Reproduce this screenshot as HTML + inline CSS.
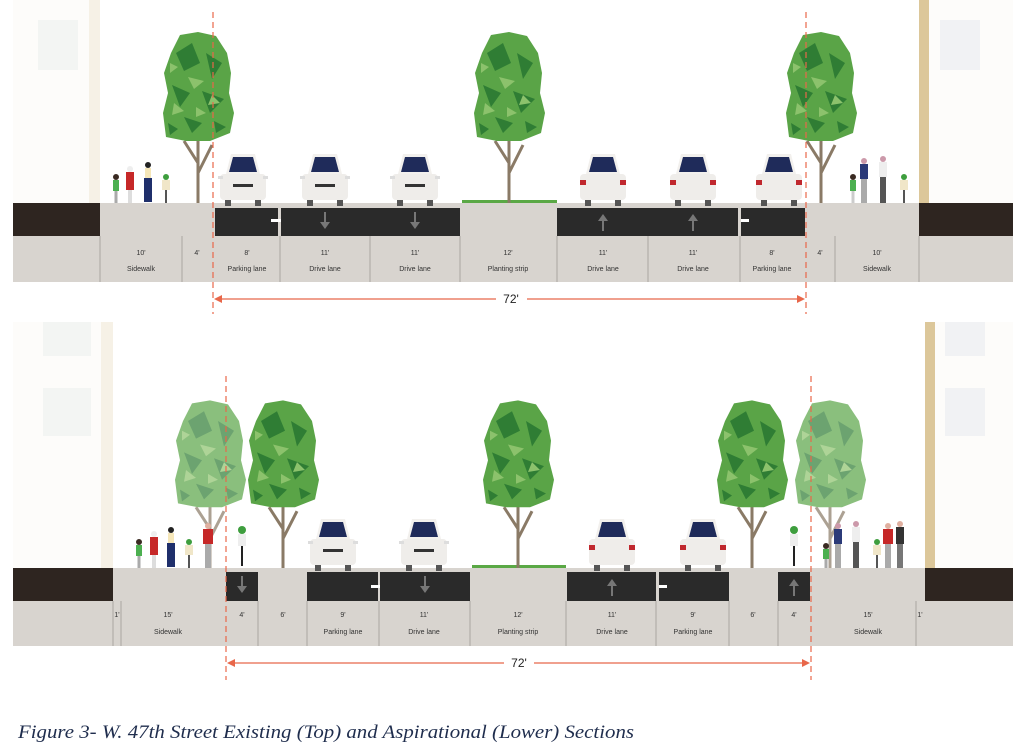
<!DOCTYPE html>
<html><head><meta charset="utf-8"><style>
html,body{margin:0;padding:0;background:#fff;}
svg{display:block;}
</style></head><body>
<svg width="1023" height="755" viewBox="0 0 1023 755" xmlns="http://www.w3.org/2000/svg">
<defs>
<g id="tree">
  <path d="M0,0 L0,-70 M0,-40 L-14,-62 M0,-30 L14,-58" stroke="#8a7a66" stroke-width="3" fill="none"/>
  <path d="M-32,-66 L-35,-90 L-30,-110 L-34,-130 L-27,-150 L-18,-168 L0,-171 L18,-167 L29,-150 L33,-130 L31,-110 L36,-90 L32,-70 L12,-62 L-12,-62 Z" fill="#5aa447"/>
  <path d="M-22,-150 L-6,-160 L2,-140 L-14,-132 Z M8,-150 L24,-140 L14,-124 Z M-26,-118 L-8,-110 L-18,-96 Z M4,-112 L26,-104 L12,-90 Z M-14,-86 L4,-80 L-6,-70 Z M16,-82 L28,-76 L18,-70 Z M-30,-80 L-20,-74 L-28,-68 Z" fill="#2f7d34"/>
  <path d="M-10,-126 L6,-122 L-4,-114 Z M14,-108 L22,-100 L10,-98 Z M-24,-100 L-14,-92 L-26,-88 Z M-2,-96 L8,-90 L-2,-86 Z M-28,-140 L-20,-136 L-28,-130 Z" fill="#8cc26c"/>
</g>
<g id="car">
  <rect x="-23" y="-14" width="46" height="26" rx="4" fill="#efedea"/>
  <path d="M-17,-14 L-12,-34 L12,-34 L17,-14 Z" fill="#f2f0ed"/>
  <path d="M-14,-16 L-10,-31 L10,-31 L14,-16 Z" fill="#1f2b5a"/>
  <rect x="-25" y="-12" width="5" height="3" fill="#ddd"/><rect x="20" y="-12" width="5" height="3" fill="#ddd"/>
  <rect x="-10" y="-4" width="20" height="3" fill="#333"/>
  <rect x="-18" y="12" width="6" height="6" fill="#555"/><rect x="12" y="12" width="6" height="6" fill="#555"/>
</g>
<g id="carb">
  <rect x="-23" y="-14" width="46" height="26" rx="4" fill="#efedea"/>
  <path d="M-17,-14 L-12,-34 L12,-34 L17,-14 Z" fill="#f2f0ed"/>
  <path d="M-14,-16 L-10,-31 L10,-31 L14,-16 Z" fill="#1f2b5a"/>
  <rect x="-23" y="-8" width="6" height="5" fill="#c0282e"/><rect x="17" y="-8" width="6" height="5" fill="#c0282e"/>
  <rect x="-18" y="12" width="6" height="6" fill="#555"/><rect x="12" y="12" width="6" height="6" fill="#555"/>
</g>
</defs>
<style>
.l{font-family:"Liberation Sans",sans-serif;font-size:7px;fill:#333;text-anchor:middle;}
.d{font-family:"Liberation Sans",sans-serif;font-size:12px;fill:#222;text-anchor:middle;}
</style>

<!-- buildings top -->
<rect x="13" y="0" width="80" height="203" fill="#fdfcfa"/>
<rect x="89" y="0" width="11" height="203" fill="#f6f1e6"/>
<rect x="38" y="20" width="40" height="50" fill="#f3f5f3"/>
<rect x="919" y="0" width="94" height="203" fill="#fdfcfa"/>
<rect x="919" y="0" width="10" height="203" fill="#dcc79a"/>
<rect x="940" y="20" width="40" height="50" fill="#f1f2f4"/>
<!-- buildings bottom -->
<rect x="13" y="322" width="90" height="246" fill="#fdfcfa"/>
<rect x="101" y="322" width="12" height="246" fill="#f6f1e6"/>
<rect x="43" y="322" width="48" height="34" fill="#f3f5f3"/>
<rect x="43" y="388" width="48" height="48" fill="#f3f5f3"/>
<rect x="925" y="322" width="88" height="246" fill="#fdfcfa"/>
<rect x="925" y="322" width="10" height="246" fill="#dcc79a"/>
<rect x="945" y="322" width="40" height="34" fill="#f1f2f4"/>
<rect x="945" y="388" width="40" height="48" fill="#f1f2f4"/>

<!-- TOP SECTION -->
<rect x="13" y="203" width="1000" height="79" fill="#d8d4cf"/>
<rect x="13" y="203" width="87" height="33" fill="#2e2520"/>
<rect x="919" y="203" width="94" height="33" fill="#2e2520"/>
<rect x="215" y="208" width="63" height="28" fill="#2a2a2a"/>
<rect x="281" y="208" width="179" height="28" fill="#2a2a2a"/>
<rect x="557" y="208" width="181" height="28" fill="#2a2a2a"/>
<rect x="741" y="208" width="64" height="28" fill="#2a2a2a"/>
<rect x="271" y="219" width="10" height="3" fill="#fff"/>
<rect x="741" y="219" width="8" height="3" fill="#fff"/>
<path d="M324,212 v10 h-4 l5,7 l5,-7 h-4 v-10z" fill="#777"/>
<path d="M414,212 v10 h-4 l5,7 l5,-7 h-4 v-10z" fill="#777"/>
<path d="M602,231 v-10 h-4 l5,-7 l5,7 h-4 v10z" fill="#777"/>
<path d="M692,231 v-10 h-4 l5,-7 l5,7 h-4 v10z" fill="#777"/>
<g stroke="#aaa6a0" stroke-width="1">
<line x1="100" y1="236" x2="100" y2="282"/><line x1="182" y1="236" x2="182" y2="282"/>
<line x1="280" y1="236" x2="280" y2="282"/><line x1="370" y1="236" x2="370" y2="282"/>
<line x1="460" y1="236" x2="460" y2="282"/><line x1="557" y1="236" x2="557" y2="282"/>
<line x1="648" y1="236" x2="648" y2="282"/><line x1="740" y1="236" x2="740" y2="282"/>
<line x1="835" y1="236" x2="835" y2="282"/><line x1="919" y1="236" x2="919" y2="282"/>
</g>
<rect x="462" y="200" width="95" height="3" fill="#5aa845"/>
<text class="l" x="141" y="255">10'</text><text class="l" x="141" y="271">Sidewalk</text>
<text class="l" x="197" y="255">4'</text>
<text class="l" x="247" y="255">8'</text><text class="l" x="247" y="271">Parking lane</text>
<text class="l" x="325" y="255">11'</text><text class="l" x="325" y="271">Drive lane</text>
<text class="l" x="415" y="255">11'</text><text class="l" x="415" y="271">Drive lane</text>
<text class="l" x="508" y="255">12'</text><text class="l" x="508" y="271">Planting strip</text>
<text class="l" x="603" y="255">11'</text><text class="l" x="603" y="271">Drive lane</text>
<text class="l" x="693" y="255">11'</text><text class="l" x="693" y="271">Drive lane</text>
<text class="l" x="772" y="255">8'</text><text class="l" x="772" y="271">Parking lane</text>
<text class="l" x="820" y="255">4'</text>
<text class="l" x="877" y="255">10'</text><text class="l" x="877" y="271">Sidewalk</text>

<use href="#tree" transform="translate(198,203)"/>
<use href="#tree" transform="translate(509,203)"/>
<use href="#tree" transform="translate(821,203)"/>
<use href="#car" transform="translate(243,188)"/>
<use href="#car" transform="translate(325,188)"/>
<use href="#car" transform="translate(415,188)"/>
<use href="#carb" transform="translate(603,188)"/>
<use href="#carb" transform="translate(693,188)"/>
<use href="#carb" transform="translate(779,188)"/>
<g transform="translate(116,203)"><circle cy="-26" r="3" fill="#3a2a22"/><rect x="-3" y="-23" width="6" height="11" fill="#4caf50"/><rect x="-1.5" y="-12" width="3" height="12" fill="#aaa"/></g>
<g transform="translate(130,203)"><circle cy="-34" r="3" fill="#eee"/><rect x="-4" y="-31" width="8" height="18" fill="#c62828"/><rect x="-2" y="-13" width="4" height="13" fill="#ddd"/></g>
<g transform="translate(148,203)"><circle cy="-38" r="3" fill="#222"/><rect x="-3" y="-35" width="6" height="10" fill="#f5e6b8"/><rect x="-4" y="-25" width="8" height="24" fill="#1f2f6b"/></g>
<g transform="translate(166,203)"><circle cy="-26" r="3" fill="#3e9e3e"/><rect x="-4" y="-23" width="8" height="10" fill="#f0e6c8"/><rect x="-1" y="-13" width="2" height="13" fill="#555"/></g>
<g transform="translate(853,203)"><circle cy="-26" r="3" fill="#3a2a22"/><rect x="-3" y="-23" width="6" height="11" fill="#4caf50"/><rect x="-1.5" y="-12" width="3" height="12" fill="#ccc"/></g>
<g transform="translate(864,203)"><circle cy="-42" r="3" fill="#c9a"/><rect x="-4" y="-39" width="8" height="15" fill="#2b3a78"/><rect x="-3" y="-24" width="6" height="24" fill="#aaa"/></g>
<g transform="translate(883,203)"><circle cy="-44" r="3" fill="#c9a"/><rect x="-4" y="-41" width="8" height="15" fill="#eee"/><rect x="-3" y="-26" width="6" height="26" fill="#555"/></g>
<g transform="translate(904,203)"><circle cy="-26" r="3" fill="#3e9e3e"/><rect x="-4" y="-23" width="8" height="10" fill="#f0e6c8"/><rect x="-1" y="-13" width="2" height="13" fill="#555"/></g>

<line x1="213" y1="12" x2="213" y2="314" stroke="#e8674a" stroke-width="1.2" stroke-dasharray="6,4"/>
<line x1="806" y1="12" x2="806" y2="314" stroke="#e8674a" stroke-width="1.2" stroke-dasharray="6,4"/>
<line x1="218" y1="299" x2="496" y2="299" stroke="#e8674a" stroke-width="1.3"/>
<line x1="527" y1="299" x2="801" y2="299" stroke="#e8674a" stroke-width="1.3"/>
<path d="M214,299 l8,-4 v8z" fill="#e8674a"/><path d="M805,299 l-8,-4 v8z" fill="#e8674a"/>
<text class="d" x="511" y="303">72'</text>

<!-- BOTTOM SECTION -->
<rect x="13" y="568" width="1000" height="78" fill="#d8d4cf"/>
<rect x="13" y="568" width="100" height="33" fill="#2e2520"/>
<rect x="925" y="568" width="88" height="33" fill="#2e2520"/>
<rect x="226" y="572" width="32" height="29" fill="#2a2a2a"/>
<rect x="307" y="572" width="71" height="29" fill="#2a2a2a"/>
<rect x="380" y="572" width="90" height="29" fill="#2a2a2a"/>
<rect x="567" y="572" width="89" height="29" fill="#2a2a2a"/>
<rect x="659" y="572" width="70" height="29" fill="#2a2a2a"/>
<rect x="778" y="572" width="32" height="29" fill="#2a2a2a"/>
<rect x="371" y="585" width="9" height="3" fill="#fff"/>
<rect x="659" y="585" width="8" height="3" fill="#fff"/>
<path d="M241,576 v10 h-4 l5,7 l5,-7 h-4 v-10z" fill="#777"/>
<path d="M424,576 v10 h-4 l5,7 l5,-7 h-4 v-10z" fill="#777"/>
<path d="M611,596 v-10 h-4 l5,-7 l5,7 h-4 v10z" fill="#777"/>
<path d="M793,596 v-10 h-4 l5,-7 l5,7 h-4 v10z" fill="#777"/>
<g stroke="#aaa6a0" stroke-width="1">
<line x1="113" y1="601" x2="113" y2="646"/><line x1="121" y1="601" x2="121" y2="646"/>
<line x1="258" y1="601" x2="258" y2="646"/><line x1="307" y1="601" x2="307" y2="646"/>
<line x1="379" y1="601" x2="379" y2="646"/><line x1="470" y1="601" x2="470" y2="646"/>
<line x1="566" y1="601" x2="566" y2="646"/><line x1="656" y1="601" x2="656" y2="646"/>
<line x1="729" y1="601" x2="729" y2="646"/><line x1="778" y1="601" x2="778" y2="646"/>
<line x1="916" y1="601" x2="916" y2="646"/>
</g>
<rect x="472" y="565" width="94" height="3" fill="#5aa845"/>
<text class="l" x="117" y="617">1'</text>
<text class="l" x="168" y="617">15'</text><text class="l" x="168" y="634">Sidewalk</text>
<text class="l" x="242" y="617">4'</text>
<text class="l" x="283" y="617">6'</text>
<text class="l" x="343" y="617">9'</text><text class="l" x="343" y="634">Parking lane</text>
<text class="l" x="424" y="617">11'</text><text class="l" x="424" y="634">Drive lane</text>
<text class="l" x="518" y="617">12'</text><text class="l" x="518" y="634">Planting strip</text>
<text class="l" x="612" y="617">11'</text><text class="l" x="612" y="634">Drive lane</text>
<text class="l" x="693" y="617">9'</text><text class="l" x="693" y="634">Parking lane</text>
<text class="l" x="753" y="617">6'</text>
<text class="l" x="794" y="617">4'</text>
<text class="l" x="868" y="617">15'</text><text class="l" x="868" y="634">Sidewalk</text>
<text class="l" x="920" y="617">1'</text>

<g opacity="0.7"><use href="#tree" transform="translate(210,568) scale(1,0.98)"/></g>
<use href="#tree" transform="translate(283,568) scale(1,0.98)"/>
<use href="#tree" transform="translate(518,568) scale(1,0.98)"/>
<use href="#tree" transform="translate(752,568) scale(1,0.98)"/>
<g opacity="0.7"><use href="#tree" transform="translate(830,568) scale(1,0.98)"/></g>
<use href="#car" transform="translate(333,553)"/>
<use href="#car" transform="translate(424,553)"/>
<use href="#carb" transform="translate(612,553)"/>
<use href="#carb" transform="translate(703,553)"/>
<g transform="translate(139,568)"><circle cy="-26" r="3" fill="#3a2a22"/><rect x="-3" y="-23" width="6" height="11" fill="#4caf50"/><rect x="-1.5" y="-12" width="3" height="12" fill="#aaa"/></g>
<g transform="translate(154,568)"><circle cy="-34" r="3" fill="#eee"/><rect x="-4" y="-31" width="8" height="18" fill="#c62828"/><rect x="-2" y="-13" width="4" height="13" fill="#ddd"/></g>
<g transform="translate(171,568)"><circle cy="-38" r="3" fill="#222"/><rect x="-3" y="-35" width="6" height="10" fill="#f5e6b8"/><rect x="-4" y="-25" width="8" height="24" fill="#1f2f6b"/></g>
<g transform="translate(189,568)"><circle cy="-26" r="3" fill="#3e9e3e"/><rect x="-4" y="-23" width="8" height="10" fill="#f0e6c8"/><rect x="-1" y="-13" width="2" height="13" fill="#555"/></g>
<g transform="translate(208,568)"><circle cy="-42" r="3" fill="#e0b0a0"/><rect x="-5" y="-39" width="10" height="15" fill="#c62828"/><rect x="-3" y="-24" width="6" height="24" fill="#aaa"/></g>
<g transform="translate(242,568)"><circle cy="-38" r="4" fill="#3e9e3e"/><rect x="-4" y="-34" width="8" height="12" fill="#eee"/><rect x="-1" y="-22" width="2" height="20" fill="#222"/></g>
<g transform="translate(794,568)"><circle cy="-38" r="4" fill="#3e9e3e"/><rect x="-4" y="-34" width="8" height="12" fill="#eee"/><rect x="-1" y="-22" width="2" height="20" fill="#222"/></g>
<g transform="translate(826,568)"><circle cy="-22" r="3" fill="#3a2a22"/><rect x="-3" y="-19" width="6" height="10" fill="#4caf50"/><rect x="-1.5" y="-9" width="3" height="9" fill="#aaa"/></g>
<g transform="translate(838,568)"><circle cy="-42" r="3" fill="#c9a"/><rect x="-4" y="-39" width="8" height="15" fill="#2b3a78"/><rect x="-3" y="-24" width="6" height="24" fill="#aaa"/></g>
<g transform="translate(856,568)"><circle cy="-44" r="3" fill="#c9a"/><rect x="-4" y="-41" width="8" height="15" fill="#eee"/><rect x="-3" y="-26" width="6" height="26" fill="#555"/></g>
<g transform="translate(877,568)"><circle cy="-26" r="3" fill="#3e9e3e"/><rect x="-4" y="-23" width="8" height="10" fill="#f0e6c8"/><rect x="-1" y="-13" width="2" height="13" fill="#555"/></g>
<g transform="translate(888,568)"><circle cy="-42" r="3" fill="#e0b0a0"/><rect x="-5" y="-39" width="10" height="15" fill="#c62828"/><rect x="-3" y="-24" width="6" height="24" fill="#aaa"/></g>
<g transform="translate(900,568)"><circle cy="-44" r="3" fill="#e0b0a0"/><rect x="-4" y="-41" width="8" height="17" fill="#333"/><rect x="-3" y="-24" width="6" height="24" fill="#777"/></g>

<line x1="226" y1="376" x2="226" y2="680" stroke="#e8674a" stroke-width="1.2" stroke-dasharray="6,4"/>
<line x1="811" y1="376" x2="811" y2="680" stroke="#e8674a" stroke-width="1.2" stroke-dasharray="6,4"/>
<line x1="231" y1="663" x2="504" y2="663" stroke="#e8674a" stroke-width="1.3"/>
<line x1="534" y1="663" x2="806" y2="663" stroke="#e8674a" stroke-width="1.3"/>
<path d="M227,663 l8,-4 v8z" fill="#e8674a"/><path d="M810,663 l-8,-4 v8z" fill="#e8674a"/>
<text class="d" x="519" y="667">72'</text>

<text x="18" y="738" textLength="616" lengthAdjust="spacingAndGlyphs" font-family="Liberation Serif, serif" font-style="italic" font-size="19" fill="#1f2d4d">Figure 3- W. 47th Street Existing (Top) and Aspirational (Lower) Sections</text>
</svg>
</body></html>
